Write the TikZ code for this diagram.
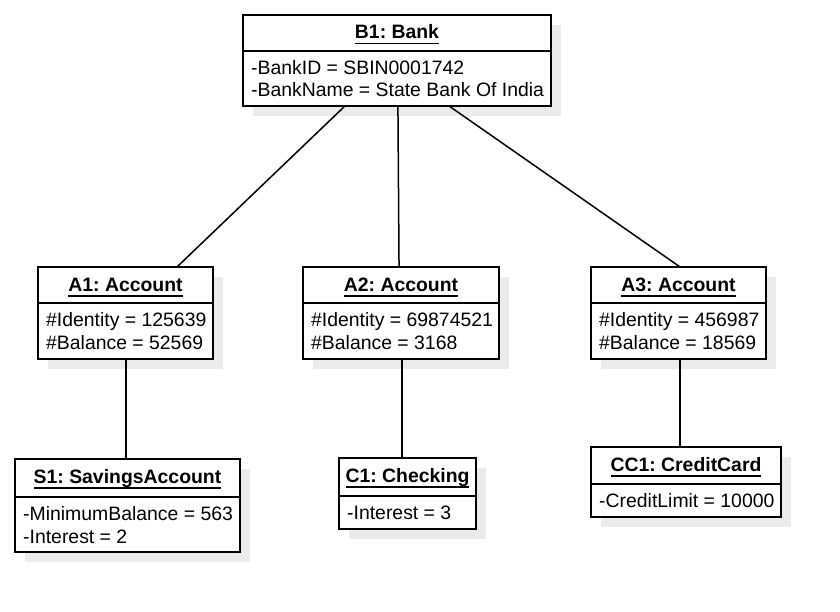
\documentclass[tikz,border=0pt]{standalone}
\usepackage{fontspec}
\setmainfont{Liberation Sans}
\usetikzlibrary{calc}
\frenchspacing
\newcommand{\objul}[1]{\setbox0\hbox{#1}\rlap{\rule[-5.5pt]{\wd0}{1.6pt}}\box0}
\tikzset{
  shadowc/.style={fill=black!8},
  objbox/.style={draw, line width=1.6pt, fill=white, inner sep=0pt, outer sep=0pt, rectangle},
  objline/.style={line width=1.6pt},
  objtitle/.style={inner sep=0pt, anchor=base, font=\fontsize{19.4}{22}\selectfont\bfseries\frenchspacing},
  objattr/.style={inner sep=0pt, anchor=base west, font=\fontsize{19.4}{22}\selectfont\frenchspacing},
  conn/.style={line width=1.5pt}
}
% name, x1, y1, x2, y2, ydivider, title, attribute lines
\newcommand{\umlobj}[8]{%
  \fill[shadowc] (#2+10,#3+10) rectangle (#4+10,#5+10);
  \node[objbox, minimum width={#4-#2}, minimum height={#5-#3}] (#1) at ({(#2+#4)/2},{(#3+#5)/2}) {};
  \draw[objline] (#2,#6) -- (#4,#6);
  \node[objtitle] (#1-title) at ({(#2+#4)/2},#3+24) {\objul{#7}};
  \foreach \t [count=\i from 0] in {#8} {
    \node[objattr] (#1-attr\i) at (#2+8,#6+23.5+22.5*\i) {\t};
  }
}
\begin{document}
\begin{tikzpicture}[x=1pt,y=-1pt]
\useasboundingbox[fill=white] (0,0) rectangle (840,612);
\umlobj{B1}{243}{15}{551}{106}{51}{B1: Bank}{-BankID = SBIN0001742,-BankName = State Bank Of India}
\umlobj{A1}{38}{267}{213}{359}{303}{A1: Account}{\#Identity = 125639,\#Balance = 52569}
\umlobj{A2}{303}{267}{499}{359}{303}{A2: Account}{\#Identity = 69874521,\#Balance = 3168}
\umlobj{A3}{591}{267}{766}{359}{303}{A3: Account}{\#Identity = 456987,\#Balance = 18569}
\umlobj{S1}{15}{459}{240}{552}{497}{S1: SavingsAccount}{-MinimumBalance = 563,-Interest = 2}
\umlobj{C1}{339}{458}{476}{529}{496}{C1: Checking}{-Interest = 3}
\umlobj{CC1}{591}{447}{781}{517}{484}{CC1: CreditCard}{-CreditLimit = 10000}
% connectors
\draw[conn] ($(B1.south west)!0.331!(B1.south east)$) -- ($(A1.north west)!0.794!(A1.north east)$);
\draw[conn] ($(B1.south west)!0.503!(B1.south east)$) -- ($(A2.north west)!0.49!(A2.north east)$);
\draw[conn] ($(B1.south west)!0.669!(B1.south east)$) -- ($(A3.north west)!0.509!(A3.north east)$);
\coordinate (a1b) at ($(A1.south west)!0.503!(A1.south east)$);
\draw[conn] (a1b) -- (a1b |- S1.north);
\coordinate (a2b) at ($(A2.south west)!0.505!(A2.south east)$);
\draw[conn] (a2b) -- (a2b |- C1.north);
\coordinate (a3b) at ($(A3.south west)!0.509!(A3.south east)$);
\draw[conn] (a3b) -- (a3b |- CC1.north);
\end{tikzpicture}
\end{document}
